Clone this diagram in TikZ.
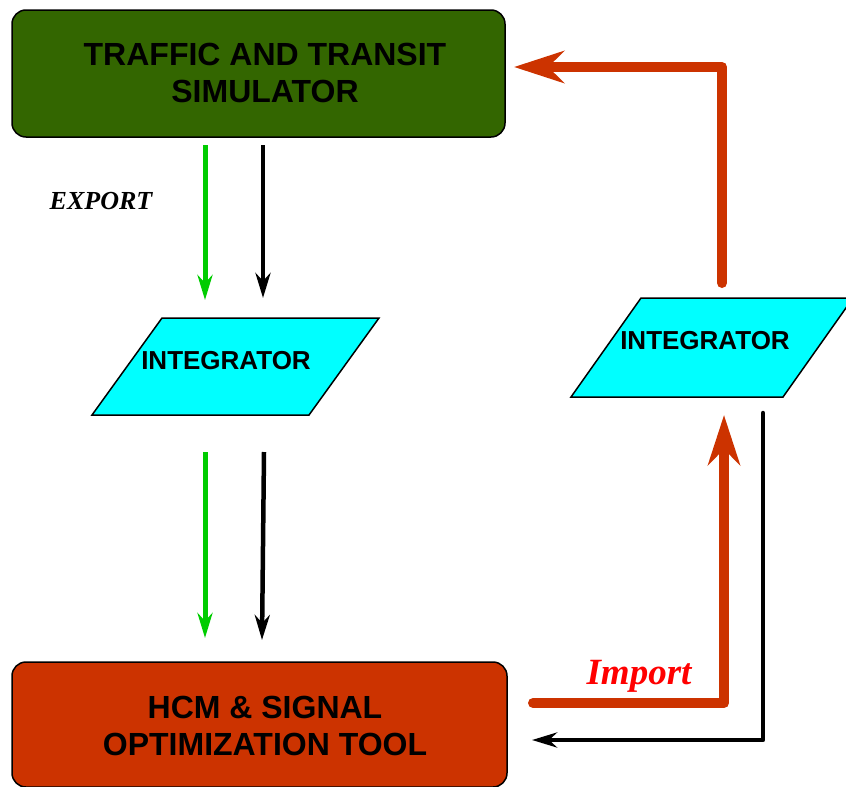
\documentclass[tikz,border=0pt]{standalone}
\usepackage{fontspec}
\setmainfont{Liberation Serif}
\setsansfont{Liberation Sans}
\usetikzlibrary{arrows.meta}
\definecolor{simgreen}{HTML}{336600}
\definecolor{hcmred}{HTML}{CC3300}
\definecolor{flowgreen}{HTML}{00CC00}
\definecolor{importred}{HTML}{FF0000}
\definecolor{integcyan}{HTML}{00FFFF}
\begin{document}
\begin{tikzpicture}[x=1pt,y=-1pt,
  box/.style={draw=black, line width=1.5pt, rounded corners=14pt, inner sep=0pt},
  boxtext/.style={font=\sffamily\bfseries\fontsize{32}{37}\selectfont, align=center, text=black, inner sep=0pt},
  integ/.style={draw=black, line width=1.5pt, fill=integcyan},
  integtext/.style={font=\sffamily\bfseries\fontsize{26}{30}\selectfont, inner sep=0pt},
  gflow/.style={line width=5pt, draw=flowgreen, -{Stealth[length=25pt,width=15pt,inset=8pt]}},
  kflow/.style={line width=4.5pt, draw=black, -{Stealth[length=25pt,width=15pt,inset=8pt]}},
  rflow/.style={line width=10pt, draw=hcmred, line cap=round, line join=round, -{Stealth[length=50pt,width=32pt,inset=16pt]}},
  note/.style={font=\bfseries\itshape, inner sep=0pt},
]
\useasboundingbox (0,0) rectangle (846,787);
\begin{scope}
\clip (0,0) rectangle (846,787);

% main blocks
\path[box, fill=simgreen] (12,10) rectangle (505,137);
\node[boxtext] (sim) at (265,73) {TRAFFIC AND TRANSIT\\SIMULATOR};
\path[box, fill=hcmred] (12,662) rectangle (507,787);
\node[boxtext] (hcm) at (265,726) {HCM \& SIGNAL\\OPTIMIZATION TOOL};

% integrators
\draw[integ] (92,415) -- (162,318) -- (379,318) -- (309,415) -- cycle;
\node[integtext] (intL) at (226,361) {INTEGRATOR};
\draw[integ] (571,397) -- (641,298) -- (853,298) -- (783,397) -- cycle;
\node[integtext] (intR) at (705,341) {INTEGRATOR};

% connector end points
\coordinate (g1s) at (205,145); \coordinate (g1e) at (205,300);
\coordinate (k1s) at (263,145); \coordinate (k1e) at (263,298);
\coordinate (g2s) at (205,452); \coordinate (g2e) at (205,638);
\coordinate (k2s) at (264,452); \coordinate (k2e) at (262,640);
\coordinate (r1s) at (722,283); \coordinate (r1c) at (722,67); \coordinate (r1e) at (514,67);
\coordinate (r2s) at (533,703); \coordinate (r2c) at (724,703); \coordinate (r2e) at (724,415);
\coordinate (k3s) at (763,413); \coordinate (k3c) at (763,740); \coordinate (k3e) at (532,740);

% export flows
\draw[gflow] (g1s) -- (g1e);
\draw[kflow] (k1s) -- (k1e);
\draw[gflow] (g2s) -- (g2e);
\draw[kflow] (k2s) -- (k2e);

% import flows
\draw[rflow] (r1s) -- (r1c) -- (r1e);
\draw[rflow] (r2s) -- (r2c) -- (r2e);
\draw[kflow, line cap=round, line join=round] (k3s) -- (k3c) -- (k3e);

% labels
\node[note, font=\bfseries\itshape\fontsize{26}{28}\selectfont] (export) at (101,201) {EXPORT};
\node[note, text=importred, font=\bfseries\itshape\fontsize{37}{40}\selectfont] (import) at (639,676) {Import};
\end{scope}
\end{tikzpicture}
\end{document}
